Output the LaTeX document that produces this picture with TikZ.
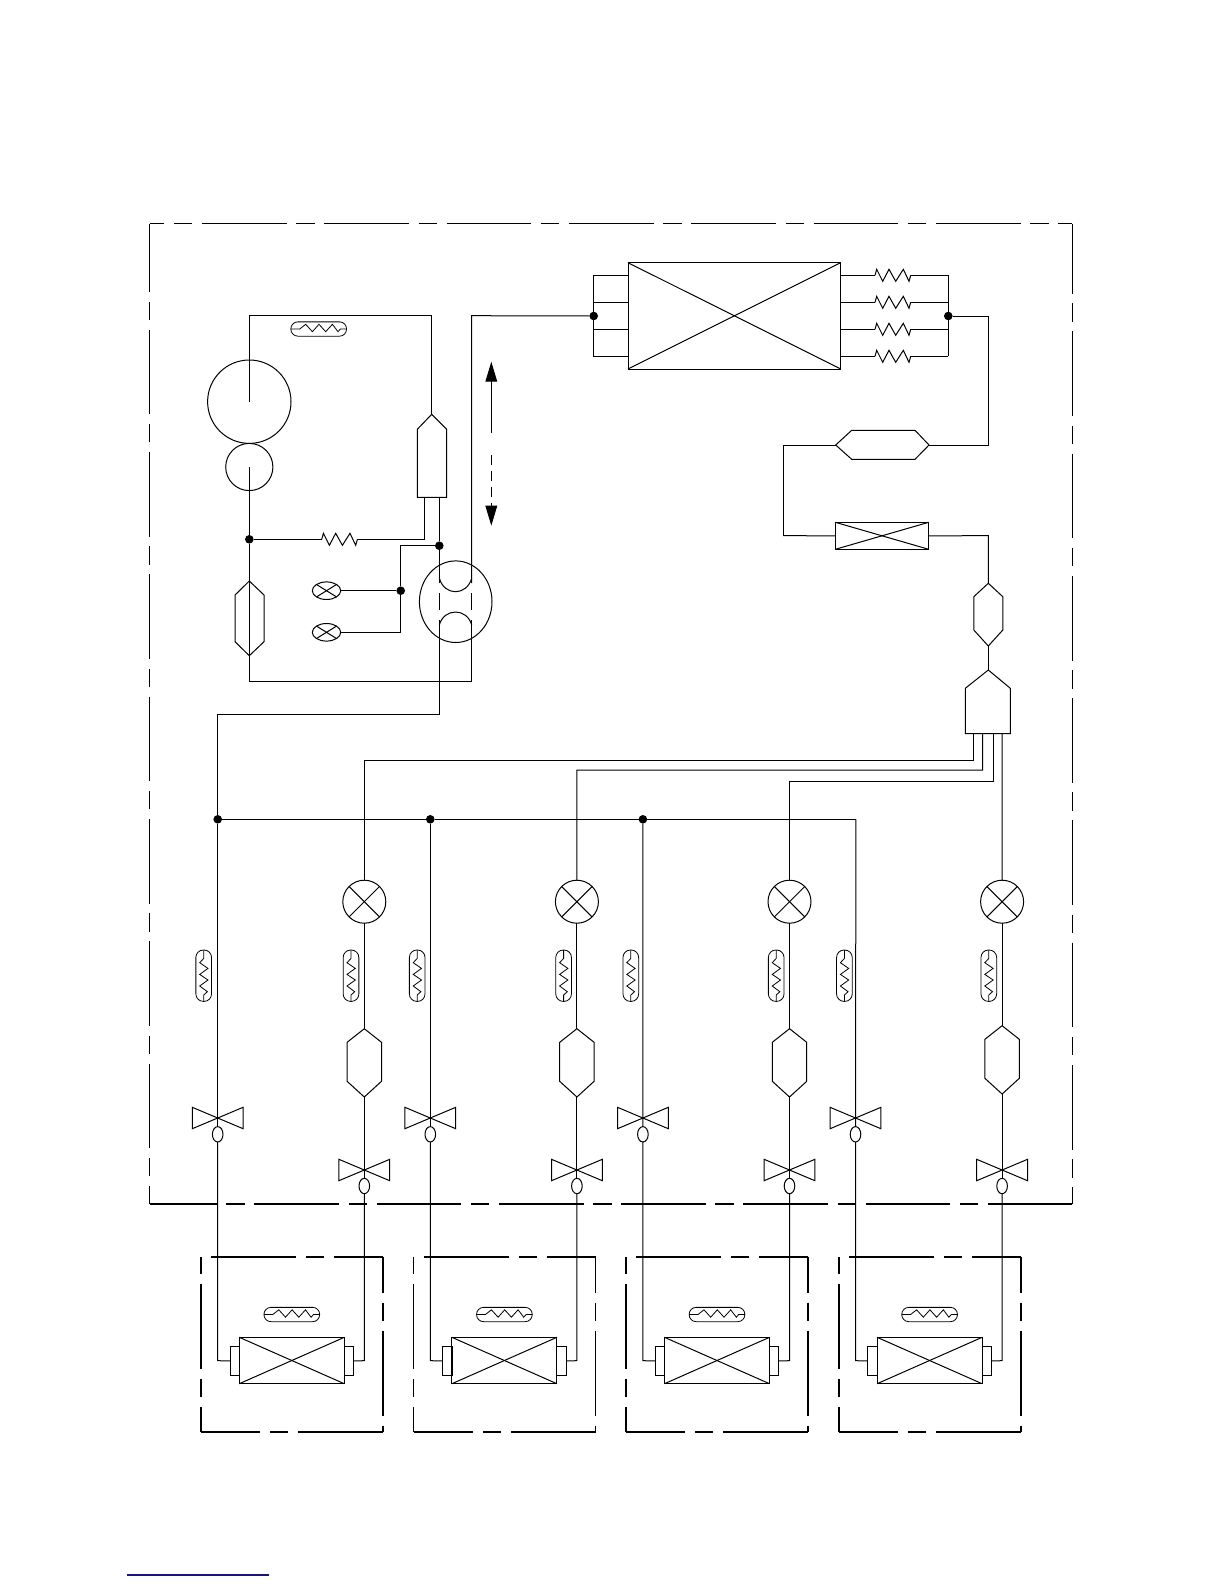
\documentclass[tikz,border=0pt]{standalone}
\usetikzlibrary{shapes.geometric,arrows.meta}
\tikzset{
  pipe/.style={line width=1pt,black,line join=miter},
  part/.style={draw=black,line width=1pt,inner sep=0pt,outer sep=0pt},
  rectpart/.style={part,rectangle},
  roundpart/.style={part,circle},
  ovalpart/.style={part,ellipse},
  joint/.style={circle,fill=black,inner sep=0pt,outer sep=0pt,minimum size=8.6pt},
  outerline/.style={line width=1pt,dash pattern=on 84.7pt off 9.6pt on 18.4pt off 9.6pt},
  outerbase/.style={line width=1.8pt,dash pattern=on 84.7pt off 9.6pt on 18.4pt off 9.6pt},
  unitline/.style={line width=1.7pt,dash pattern=on 85pt off 10pt on 18pt off 10pt},
  pics/resist/.style={code={
    \draw[pipe] (0,0)--(1.7,-6)--(7.7,6)--(14,-6)--(20.7,6)--(28.3,-6)--(34,6)--(35.7,0);}},
  pics/pillh/.style={code={
    \draw[pipe,line width=.8pt,rounded corners=7pt] (-27.85,-7.15) rectangle (27.85,7.15);
    \draw[pipe,line width=.8pt] (-27.85,0)--(-19,0)--(-13,-4.7)--(-6.3,2.7)--(0.3,-4.7)--(7,2.7)--(13.7,-4.7)--(19.3,2.7)--(21.7,0)--(27.85,0);}},
  pics/pillv/.style={code={
    \draw[pipe,line width=.8pt,rounded corners=7.5pt] (-7.85,-25.7) rectangle (7.85,25.7);
    \draw[pipe,line width=.8pt] (0,-25.7)--(0,-17.3)--(-4,-13)--(4.3,-7.3)--(-4,-1.3)--(4.3,4.3)--(-4,10.3)--(3.7,16)--(0,19.3)--(0,25.7);}},
  pics/butterfly/.style={code={
    \draw[pipe] (0,0)--(-25.4,-10.7)--(-25.4,10.7)--cycle;
    \draw[pipe] (0,0)--(25.4,-10.7)--(25.4,10.7)--cycle;}},
}
\begin{document}
\begin{tikzpicture}[x=1pt,y=-1pt]
\useasboundingbox (0,0) rectangle (1224,1584);
\path[fill=white] (0,0) rectangle (1224,1584);

% ---- outer dashed enclosure
\coordinate (otl) at (149.7,223.5);
\coordinate (otr) at (1072.4,223.5);
\coordinate (obr) at (1072.4,1203.8);
\coordinate (obl) at (149.7,1203.8);
\draw[outerline,dash phase=70pt] (otl)--(otr);
\draw[outerline,dash phase=14.6pt] (otr)--(obr);
\draw[outerbase,dash phase=0.3pt] (obr)--(obl);
\draw[outerline,dash phase=66.7pt] (obl)--(otl);

% ---- compressor group
\node[roundpart,minimum size=83.4pt] (comp) at (249.3,401.7) {};
\node[roundpart,minimum size=47.2pt] (motor) at (249.3,467) {};
\coordinate (compc) at (249.3,401.7);
\coordinate (motorc) at (249.3,467);
\coordinate (tl) at (249.3,315.7);
\coordinate (tr) at (431.7,315.7);
\coordinate (sepapex) at (431.7,414.3);
\draw[pipe] (compc)--(tl)--(tr)--(sepapex);
\draw[pipe] (431.7,414.3)--(446.7,429.3)--(446.7,497.3)--(417.3,497.3)--(417.3,429.3)--cycle;
\pic at (318.7,329) {pillh};

% accumulator
\draw[pipe] (249.3,581)--(264,595)--(264,641.7)--(249.3,655.7)--(235,641.7)--(235,595)--cycle;

\node[joint] (j1) at (249.3,539.3) {};
\coordinate (bl) at (249.3,681.7);
\coordinate (br) at (471.7,681.7);
\draw[pipe] (motorc)--(j1)--(bl)--(br);

% capillary from separator
\coordinate (sepL) at (424.3,497.3);
\coordinate (sepLb) at (424.3,539.3);
\coordinate (capA) at (321.7,539.3);
\coordinate (capB) at (357.4,539.3);
\draw[pipe] (sepL)--(sepLb)--(capB);
\draw[pipe] (capA)--(j1);
\pic at (capA) {resist};

% four-way valve
\node[ovalpart,minimum width=72.6pt,minimum height=81.6pt] (fv) at (455.7,601.7) {};
\coordinate (sepR) at (439.3,497.3);
\node[joint] (j2) at (439.3,545.7) {};
\coordinate (fvA1) at (439.3,583);
\coordinate (fvA2) at (439.3,593);
\coordinate (fvA3) at (439.3,610);
\coordinate (fvA4) at (439.3,620);
\coordinate (fvB1) at (471.7,583);
\coordinate (fvB2) at (471.7,593);
\coordinate (fvB3) at (471.7,610);
\coordinate (fvB4) at (471.7,620);
\draw[pipe] (sepR)--(j2)--(fvA1);
\draw[pipe] (fvA2)--(fvA3);
\draw[pipe] (fvB2)--(fvB3);
\draw[pipe] (439.3,578) .. controls (444,596.3) and (467,596.3) .. (471.7,578);
\draw[pipe] (439.3,625) .. controls (444,607.7) and (467,607.7) .. (471.7,625);
\coordinate (top2) at (471.7,315.7);
\node[joint] (j6) at (593.7,316) {};
\draw[pipe] (fvB1)--(top2)--(j6);
\draw[pipe] (fvB4)--(br);
\coordinate (suctA) at (439.3,714);
\coordinate (suctB) at (217.7,714);
\draw[pipe] (fvA4)--(suctA)--(suctB);

% solenoids
\node[joint] (j3) at (400.7,590.7) {};
\coordinate (solcorner) at (400.7,545.7);
\coordinate (solend) at (400.7,632.3);
\node[ovalpart,minimum width=28.4pt,minimum height=17.6pt] (sol1) at (326.5,590.7) {};
\node[ovalpart,minimum width=28.4pt,minimum height=17.6pt] (sol2) at (326.5,632.3) {};
\draw[pipe] (j2)--(solcorner)--(j3)--(solend)--(sol2.east);
\draw[pipe] (j3)--(sol1.east);
\foreach \s in {sol1,sol2}{
  \draw[pipe] (\s.north west)--(\s.south east);
  \draw[pipe] (\s.north east)--(\s.south west);
}

% direction arrows
\coordinate (arA) at (491.3,433.3);
\coordinate (arB) at (491.3,361.7);
\coordinate (arC) at (491.3,455);
\coordinate (arD) at (491.3,525.7);
\draw[pipe,-{Triangle[length=20pt,width=11.7pt]}] (arA)--(arB);
\draw[pipe,dash pattern=on 10pt off 6pt,-{Triangle[length=20pt,width=11.7pt]}] (arC)--(arD);

% ---- condenser
\node[rectpart,minimum width=212.7pt,minimum height=106.3pt] (hx) at (734.35,315.85) {};
\draw[pipe] (hx.north west)--(hx.south east);
\draw[pipe] (hx.north east)--(hx.south west);
\coordinate (mla) at (593.7,275.3);
\coordinate (mlb) at (593.7,356.3);
\draw[pipe] (628,275.3)--(mla)--(mlb)--(628,356.3);
\draw[pipe] (593.7,302.3)--(628,302.3);
\draw[pipe] (593.7,329.3)--(628,329.3);
\foreach \y in {275.3,302.3,329.3,356.3}{
  \draw[pipe] (840.7,\y)--(875,\y);
  \pic at (875,\y) {resist};
  \draw[pipe] (910.7,\y)--(948.3,\y);
}
\draw[pipe] (948.3,275.3)--(948.3,356.3);
\node[joint] (j7) at (948.3,316) {};

% receiver and filter
\draw[pipe] (835.7,445)--(851.7,430.3)--(915,430.3)--(929,445)--(915,459.3)--(851.7,459.3)--cycle;
\coordinate (rcvR) at (929,445);
\coordinate (rcvL) at (835.7,445);
\coordinate (c1) at (988.3,316);
\coordinate (c2) at (988.3,445);
\coordinate (c3) at (783.3,445);
\coordinate (c4) at (783.3,535.7);
\draw[pipe] (j7)--(c1)--(c2)--(rcvR);
\draw[pipe] (rcvL)--(c3)--(c4);
\node[rectpart,minimum width=93.4pt,minimum height=27pt] (filt) at (882,535.8) {};
\draw[pipe] (filt.north west)--(filt.south east);
\draw[pipe] (filt.north east)--(filt.south west);
\coordinate (c5) at (988.3,535.7);
\coordinate (hx2t) at (988.3,583.3);
\coordinate (hx2b) at (988.3,646);
\coordinate (distapex) at (988.3,670);
\draw[pipe] (c4)--(filt.west);
\draw[pipe] (filt.east)--(c5)--(hx2t);
\draw[pipe] (hx2t)--(1002.8,596.7)--(1002.8,630)--(hx2b)--(973.8,630)--(973.8,596.7)--cycle;
\draw[pipe] (hx2b)--(distapex);

% distributor
\draw[pipe] (distapex)--(1010.3,688.3)--(1010.3,733.7)--(965.3,733.7)--(965.3,688.3)--cycle;

% ---- branch lines
\coordinate (b1a) at (973.3,733.7);
\coordinate (b1b) at (973.3,760.7);
\coordinate (b1c) at (364.3,760.7);
\coordinate (b2a) at (982.7,733.7);
\coordinate (b2b) at (982.7,770);
\coordinate (b2c) at (576.9,770);
\coordinate (b3a) at (993,733.7);
\coordinate (b3b) at (993,781.3);
\coordinate (b3c) at (789.5,781.3);
\coordinate (b4a) at (1002.1,733.7);
\node[joint] (g0) at (217.7,819.3) {};
\node[joint] (g1) at (430.3,819.3) {};
\node[joint] (g2) at (642.9,819.3) {};
\coordinate (g3) at (855.9,819.3);
\draw[pipe] (suctB)--(g0)--(g1)--(g2)--(g3);

\foreach \i/\h/\p in {0/0/-14,1/0/-13.1,2/0/-12.1,3/-3/-11.1}{
  \pgfmathsetmacro{\L}{217.7+212.6*\i}
  \pgfmathsetmacro{\R}{364.3+212.6*\i}
  % expansion valve
  \node[roundpart,minimum size=43pt] (ev\i) at (\R,901.7) {};
  \draw[pipe] (ev\i.north west)--(ev\i.south east);
  \draw[pipe] (ev\i.north east)--(ev\i.south west);
  % sensors
  \pic at (\R-13.3,975.7) {pillv};
  \pic at (\L+\p,975.7) {pillv};
  % strainer
  \coordinate (st\i) at (\R,1028.7+\h);
  \coordinate (sb\i) at (\R,1097+\h);
  \draw[pipe] (st\i)--(\R+17.2,1042.3+\h)--(\R+17.2,1081.3+\h)--(sb\i)--(\R-17.2,1081.3+\h)--(\R-17.2,1042.3+\h)--cycle;
  \draw[pipe] (ev\i.south)--(st\i);
  % service valves
  \pic at (\R,1170) {butterfly};
  \pic at (\L,1118) {butterfly};
  \node[ovalpart,minimum width=10.6pt,minimum height=15.4pt] (vr\i) at (\R,1186) {};
  \node[ovalpart,minimum width=10.6pt,minimum height=15.4pt] (vl\i) at (\L,1134.3) {};
  \draw[pipe] (sb\i)--(vr\i.north);
  % indoor unit
  \node[rectpart,minimum width=105pt,minimum height=46.4pt] (coil\i) at (\R-72.5,1360.5) {};
  \draw[pipe] (coil\i.north west)--(coil\i.south east);
  \draw[pipe] (coil\i.north east)--(coil\i.south west);
  \node[rectpart,minimum width=9.4pt,minimum height=29.7pt] (stl\i) at (\R-129.6,1360.85) {};
  \node[rectpart,minimum width=9.4pt,minimum height=29.7pt] (str\i) at (\R-15.3,1360.85) {};
  \coordinate (dl\i) at (\L,1360.7);
  \coordinate (dr\i) at (\R,1360.7);
  \draw[pipe] (vl\i.south)--(dl\i)--(stl\i.west);
  \draw[pipe] (vr\i.south)--(dr\i)--(str\i.east);
  \pic at (\R-72.5,1314.5) {pillh};
  \coordinate (utl\i) at (\L-16.7,1256.7);
  \coordinate (utr\i) at (\R+18.7,1256.7);
  \coordinate (ubr\i) at (\R+18.7,1431.7);
  \coordinate (ubl\i) at (\L-16.7,1431.7);
  \draw[unitline,dash phase=113pt] (utl\i)--(utr\i);
  \draw[unitline,dash phase=49pt] (utr\i)--(ubr\i);
  \draw[unitline,dash phase=0pt] (ubr\i)--(ubl\i);
  \draw[unitline,dash phase=60pt] (ubl\i)--(utl\i);
}
% upper parts of branch lines
\draw[pipe] (b1a)--(b1b)--(b1c)--(ev0.north);
\draw[pipe] (b2a)--(b2b)--(b2c)--(ev1.north);
\draw[pipe] (b3a)--(b3b)--(b3c)--(ev2.north);
\draw[pipe] (b4a)--(ev3.north);
\draw[pipe] (g0)--(vl0.north);
\draw[pipe] (g1)--(vl1.north);
\draw[pipe] (g2)--(vl2.north);
\draw[pipe] (g3)--(vl3.north);

% page rule
\coordinate (ruleA) at (127,1575);
\coordinate (ruleB) at (269,1575);
\draw[line width=1.1pt,color={rgb,255:red,20;green,20;blue,130}] (ruleA)--(ruleB);
\end{tikzpicture}
\end{document}
